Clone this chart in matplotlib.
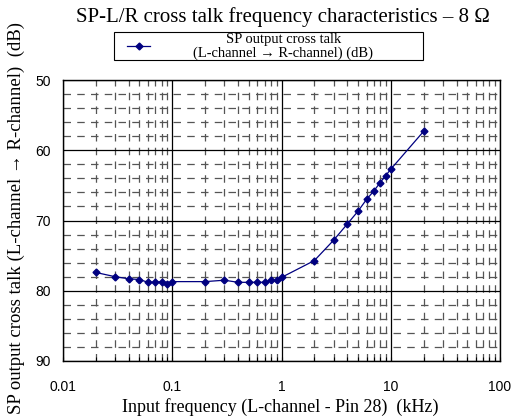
import numpy as np
import matplotlib.pyplot as plt
from matplotlib.lines import Line2D
from matplotlib.patches import Rectangle
from matplotlib.ticker import FixedLocator, NullFormatter

freq_khz = [0.02, 0.03, 0.04, 0.05, 0.06, 0.07, 0.08, 0.09, 0.1,
            0.2, 0.3, 0.4, 0.5, 0.6, 0.7, 0.8, 0.9, 1.0,
            2, 3, 4, 5, 6, 7, 8, 9, 10, 20]
crosstalk_db = [77.4, 78.0, 78.3, 78.4, 78.8, 78.8, 78.7, 79.1, 78.7,
                78.7, 78.5, 78.8, 78.8, 78.8, 78.8, 78.5, 78.5, 78.1,
                75.7, 72.8, 70.5, 68.7, 67.0, 65.8, 64.6, 63.6, 62.7, 57.3]
x_ticks = [0.01, 0.1, 1, 10, 100]
x_tick_labels = ['0.01', '0.1', '1', '10', '100']
y_ticks = [50, 60, 70, 80, 90]
series_label = 'SP output cross talk\n(L-channel \u2192 R-channel) (dB)'

serif = ['Liberation Serif', 'DejaVu Serif']
sans = ['Liberation Sans', 'DejaVu Sans']
line_color = '#000080'

fig = plt.figure(figsize=(5.14, 4.2), dpi=100)
ax = fig.add_axes([0.1226, 0.1405, 0.8502, 0.669])

ax.plot(freq_khz, crosstalk_db, color=line_color, lw=0.9, marker='D', markersize=3.5)

ax.set_xscale('log')
ax.set_xlim(0.01, 100)
ax.set_ylim(90, 50)

ax.set_xticks(x_ticks)
ax.set_xticklabels(x_tick_labels, fontfamily=sans, fontsize=10)
ax.xaxis.set_minor_locator(FixedLocator([m * 10.0 ** e for e in range(-2, 2) for m in range(2, 10)]))
ax.xaxis.set_minor_formatter(NullFormatter())
ax.set_yticks(y_ticks)
ax.set_yticklabels([str(v) for v in y_ticks], fontfamily=sans, fontsize=10)
ax.yaxis.set_minor_locator(FixedLocator(list(range(50, 91, 2))))
ax.tick_params(axis='x', which='both', direction='in', length=3, width=0.8, pad=14)
ax.tick_params(axis='y', which='both', direction='in', length=0, pad=9)

ax.grid(True, which='major', color='black', lw=0.9)
ax.grid(True, which='minor', color='#555555', lw=0.9, linestyle=(0, (6, 5)))
ax.set_axisbelow(True)
for sp in ax.spines.values():
    sp.set_linewidth(1.0)

fig.text(0.545, 0.031, 'Input frequency (L-channel - Pin 28)  (kHz)',
         ha='center', va='center', fontfamily=serif, fontsize=13)
fig.text(0.031, 0.481, 'SP output cross talk (L-channel \u2192 R-channel)  (dB)', rotation=90,
         ha='center', va='center', fontfamily=serif, fontsize=13.5)
fig.text(0.551, 0.96, 'SP-L/R cross talk frequency characteristics \u2013 8 \u03a9',
         ha='center', va='center', fontfamily=serif, fontsize=15)

# legend box drawn by hand so the text can sit centred like the original
fig.add_artist(Rectangle((0.2218, 0.857), 0.6012, 0.0667, transform=fig.transFigure,
                         facecolor='white', edgecolor='black', lw=0.8))
fig.add_artist(Line2D([0.247, 0.292], [0.8905, 0.8905], transform=fig.transFigure,
                      color=line_color, lw=0.9))
fig.add_artist(Line2D([0.2695], [0.8905], transform=fig.transFigure, color=line_color,
                      marker='D', markersize=3.5))
fig.text(0.551, 0.889, series_label, ha='center', va='center', multialignment='center',
         fontfamily=serif, fontsize=10.5, linespacing=0.98)

fig.savefig('out.png', dpi=100)
